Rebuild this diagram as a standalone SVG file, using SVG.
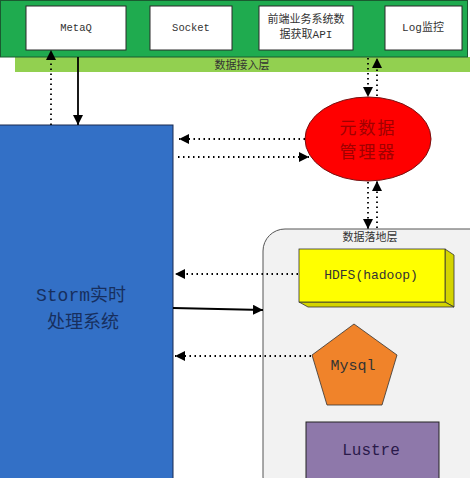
<svg xmlns="http://www.w3.org/2000/svg" width="470" height="478" viewBox="0 0 470 478">
<defs>
<marker id="ah" viewBox="0 0 10 10" refX="10" refY="5" markerWidth="10" markerHeight="10" markerUnits="userSpaceOnUse" orient="auto"><path d="M0,0 L10,5 L0,10 z" fill="#000"/></marker>
<style>
.t{font-family:"Liberation Mono","Noto Sans CJK SC",monospace;text-anchor:middle;}
.box{fill:#fff;stroke:#2a2a2a;stroke-width:1;}
.dot{stroke:#000;stroke-width:1.8;stroke-dasharray:1.5 3.5;fill:none;}
.sol{stroke:#000;stroke-width:1.8;fill:none;}
</style>
</defs>
<rect width="470" height="478" fill="#fff"/>
<g id="access-layer">
<rect x="15" y="57" width="455" height="15" fill="#92d050"/>
<text class="t" x="242" y="69" font-size="11" fill="#333">数据接入层</text>
</g>
<g id="source-bar">
<rect x="0.5" y="0.5" width="467" height="56.5" fill="#1fab4f" stroke="#1a5a30" stroke-width="1"/>
</g>
<g id="metaq"><rect class="box" x="26" y="6" width="100" height="44"/><text class="t" x="76" y="31" font-size="10.5" fill="#333">MetaQ</text></g>
<g id="socket"><rect class="box" x="150" y="6" width="82" height="44"/><text class="t" x="191" y="31" font-size="10.5" fill="#333">Socket</text></g>
<g id="api"><rect class="box" x="259" y="6" width="94" height="44"/><text class="t" x="306" y="23" font-size="11" fill="#333">前端业务系统数</text><text class="t" x="306" y="38" font-size="11" fill="#333">据获取API</text></g>
<g id="log"><rect class="box" x="385" y="6" width="77" height="44"/><text class="t" x="423" y="31" font-size="11" fill="#333">Log监控</text></g>
<g id="storm">
<rect x="-1" y="125" width="174" height="360" fill="#3370c6" stroke="#1a2a50" stroke-width="1"/>
<text class="t" x="81" y="301" font-size="18" fill="#172f5e">Storm实时</text>
<text class="t" x="83" y="328" font-size="18" fill="#172f5e">处理系统</text>
</g>
<g id="meta-manager">
<ellipse cx="368" cy="139" rx="63" ry="42" fill="#ff0000" stroke="#7a1010" stroke-width="1"/>
<text class="t" x="368" y="134" font-size="17" fill="#a00000" letter-spacing="2">元数据</text>
<text class="t" x="368" y="158" font-size="17" fill="#a00000" letter-spacing="2">管理器</text>
</g>
<g id="storage-layer">
<rect x="263" y="229" width="230" height="270" rx="22" fill="#f2f2f2" stroke="#555" stroke-width="1"/>
<text class="t" x="370" y="241" font-size="11" fill="#333">数据落地层</text>
</g>
<g id="hdfs">
<polygon points="445,249 454,255 454,307 445,302" fill="#d4d400" stroke="#333" stroke-width="0.8"/>
<polygon points="299,302 445,302 454,307 308,307" fill="#d4d400" stroke="#333" stroke-width="0.8"/>
<rect x="299" y="249" width="146" height="53" fill="#ffff00" stroke="#333" stroke-width="0.8"/>
<text class="t" x="371" y="279" font-size="13" fill="#333">HDFS(hadoop)</text>
</g>
<g id="mysql">
<polygon points="354,324 397,355 382,405 327,405 312,355" fill="#f0832a" stroke="#333" stroke-width="0.8"/>
<text class="t" x="353" y="370" font-size="15" fill="#333">Mysql</text>
</g>
<g id="lustre">
<rect x="306" y="422" width="133" height="70" fill="#8e78aa" stroke="#222" stroke-width="1"/>
<text class="t" x="371" y="455" font-size="16" fill="#2a1a4a">Lustre</text>
</g>
<g id="connectors">
<line class="dot" x1="51" y1="125" x2="51" y2="50" marker-end="url(#ah)"/>
<line class="sol" x1="78" y1="57" x2="78" y2="125" marker-end="url(#ah)"/>
<line class="dot" x1="368" y1="58" x2="368" y2="97" marker-end="url(#ah)"/>
<line class="dot" x1="377" y1="96" x2="377" y2="58" marker-end="url(#ah)"/>
<line class="dot" x1="305" y1="139" x2="179" y2="139" marker-end="url(#ah)"/>
<line class="dot" x1="178" y1="157" x2="309" y2="157" marker-end="url(#ah)"/>
<line class="dot" x1="368" y1="182" x2="368" y2="229" marker-end="url(#ah)"/>
<line class="dot" x1="377" y1="228" x2="377" y2="181" marker-end="url(#ah)"/>
<line class="dot" x1="298" y1="274" x2="175" y2="274" marker-end="url(#ah)"/>
<line class="sol" x1="173" y1="308" x2="263" y2="310" marker-end="url(#ah)"/>
<line class="dot" x1="311" y1="356" x2="175" y2="356" marker-end="url(#ah)"/>
</g>
</svg>
